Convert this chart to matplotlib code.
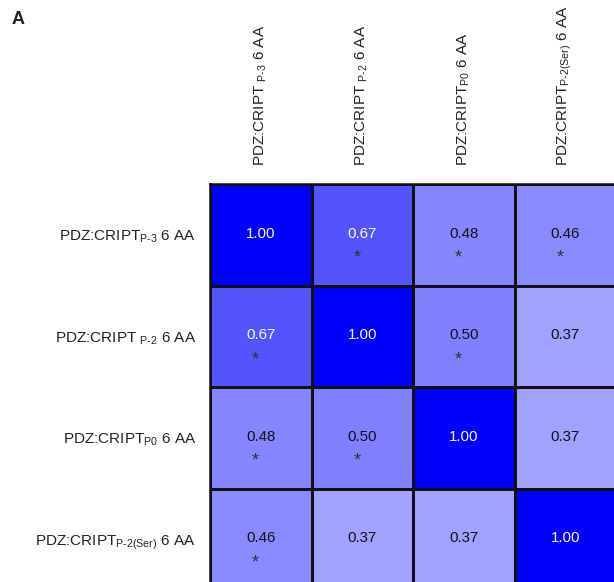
import numpy as np
import matplotlib.pyplot as plt
from matplotlib.colors import LinearSegmentedColormap

plt.rcParams['font.family'] = ['Liberation Sans', 'DejaVu Sans']
plt.rcParams['mathtext.fontset'] = 'custom'
plt.rcParams['mathtext.rm'] = 'Liberation Sans'
plt.rcParams['mathtext.it'] = 'Liberation Sans'

row_labels = [r'PDZ:CRIPT$_{\text{P-3}}$ 6 AA',
              r'PDZ:CRIPT $_{\text{P-2}}$ 6 AA',
              r'PDZ:CRIPT$_{\text{P0}}$ 6 AA',
              r'PDZ:CRIPT$_{\text{P-2(Ser)}}$ 6 AA']
col_labels = [r'PDZ:CRIPT $_{\text{P-3}}$ 6 AA',
              r'PDZ:CRIPT $_{\text{P-2}}$ 6 AA',
              r'PDZ:CRIPT$_{\text{P0}}$ 6 AA',
              r'PDZ:CRIPT$_{\text{P-2(Ser)}}$ 6 AA']

corr = np.array([[1.00, 0.67, 0.48, 0.46],
                 [0.67, 1.00, 0.50, 0.37],
                 [0.48, 0.50, 1.00, 0.37],
                 [0.46, 0.37, 0.37, 1.00]])
# significance marks
signif = np.array([[0, 1, 1, 1],
                   [1, 0, 1, 0],
                   [1, 1, 0, 0],
                   [1, 0, 0, 0]])

cmap = LinearSegmentedColormap.from_list('wb', ['#ffffff', '#0000ff'])

fig = plt.figure(figsize=(6.14, 5.82), dpi=100)
W, H = 614, 582
x0, y0, size = 210, 184, 406
ax = fig.add_axes([x0 / W, 1 - (y0 + size) / H, size / W, size / H])

n = corr.shape[0]
ax.pcolormesh(np.arange(n + 1), np.arange(n + 1), corr, cmap=cmap,
              vmin=0, vmax=1, edgecolors='#111111', linewidth=0.8)
ax.set_xlim(0, n)
ax.set_ylim(n, 0)

for i in range(n):
    for j in range(n):
        v = corr[i, j]
        c = 'white' if v > 0.6 else '#111111'
        ax.text(j + 0.5, i + 0.49, f'{v:.2f}', ha='center', va='center',
                fontsize=10.8, color=c)
        if signif[i, j]:
            ax.text(j + 0.45, i + 0.73, '*', ha='center', va='center',
                    fontsize=13, color='#333333')

ax.set_xticks(np.arange(n) + 0.5)
ax.set_yticks(np.arange(n) + 0.5)
ax.set_xticklabels(col_labels, rotation=90, fontsize=11, color='#222222')
ax.set_yticklabels(row_labels, fontsize=11, color='#222222')
ax.xaxis.tick_top()
ax.tick_params(axis='x', length=0, pad=13)
ax.tick_params(axis='y', length=0, pad=10)
for s in ax.spines.values():
    s.set_linewidth(1.8)
    s.set_color('#111111')

fig.text(12 / W, 1 - 20 / H, 'A', fontsize=13, fontweight='bold',
         ha='left', va='center', color='#222222')

fig.savefig('out.png', dpi=100)
